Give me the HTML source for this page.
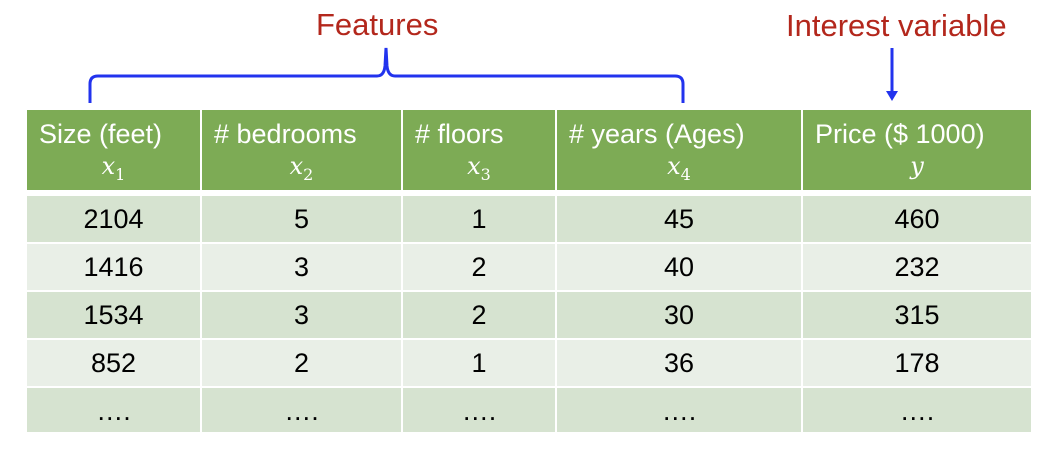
<!DOCTYPE html>
<html><head><meta charset="utf-8"><style>
body{margin:0;width:1058px;height:470px;background:#fff;font-family:"Liberation Sans",sans-serif;position:relative;overflow:hidden}
.t{position:absolute;color:#b3271c;font-size:31px;white-space:nowrap;line-height:1}
.c{position:absolute;box-sizing:border-box}
.hd{background:#7dab55;color:#fff;font-size:27px;line-height:1}
.hd .h{position:absolute;left:12px;top:11px;white-space:nowrap}
.hd .s{position:absolute;left:0;right:0;top:44px;text-align:center;font-family:"DejaVu Serif","Liberation Serif",serif;font-style:italic;font-size:24px}
.hd sub{font-size:16px;font-style:normal}
.d{font-size:27px;text-align:center;line-height:46px;color:#000}
.a{background:#d6e3d0}.b{background:#e9efe7}
</style></head><body>
<div class="t" style="left:316px;top:9px">Features</div>
<div class="t" style="left:786px;top:10px">Interest variable</div>
<svg width="1058" height="120" style="position:absolute;left:0;top:0">
<path d="M90 103 L90 84 Q90 76 98 76 L377 76 Q384 76 385 66 L386 48 L387 66 Q388 76 395 76 L675 76 Q683 76 683 84 L683 103" fill="none" stroke="#2233ee" stroke-width="3"/>
<line x1="892" y1="48" x2="892" y2="92" stroke="#2233ee" stroke-width="3"/>
<polygon points="886,91 898,91 892,101" fill="#2233ee"/>
</svg>
<div id="tbl"></div>
<script>
const heads=["Size (feet)","# bedrooms","# floors","# years (Ages)","Price ($ 1000)"];
const subs=[["x","1"],["x","2"],["x","3"],["x","4"],["y",""]];
const rows=[["2104","5","1","45","460"],["1416","3","2","40","232"],["1534","3","2","30","315"],["852","2","1","36","178"],["….","….","….","….","…."]];
const xs=[27,202,403,557,803,1033];
const tbl=document.getElementById('tbl');
for(let i=0;i<5;i++){
  const h=document.createElement('div');
  h.className='c hd';
  
  
  h.style.left=xs[i]+'px';h.style.top='110px';h.style.width=(xs[i+1]-xs[i]-2)+'px';h.style.height='80px';
  h.innerHTML='<span class="h">'+heads[i]+'</span><span class="s">'+subs[i][0]+(subs[i][1]?'<sub>'+subs[i][1]+'</sub>':'')+'</span>';
  tbl.appendChild(h);
}
rows.forEach((r,j)=>{
  r.forEach((v,i)=>{
    const d=document.createElement('div');
    d.className='c d '+(j%2?'b':'a');
    
    
    d.style.left=xs[i]+'px';d.style.top=(196+j*48)+'px';d.style.width=(xs[i+1]-xs[i]-2)+'px';d.style.height=(j==4?44:46)+'px';
    d.textContent=v;
    tbl.appendChild(d);
  });
});
</script>
</body></html>
